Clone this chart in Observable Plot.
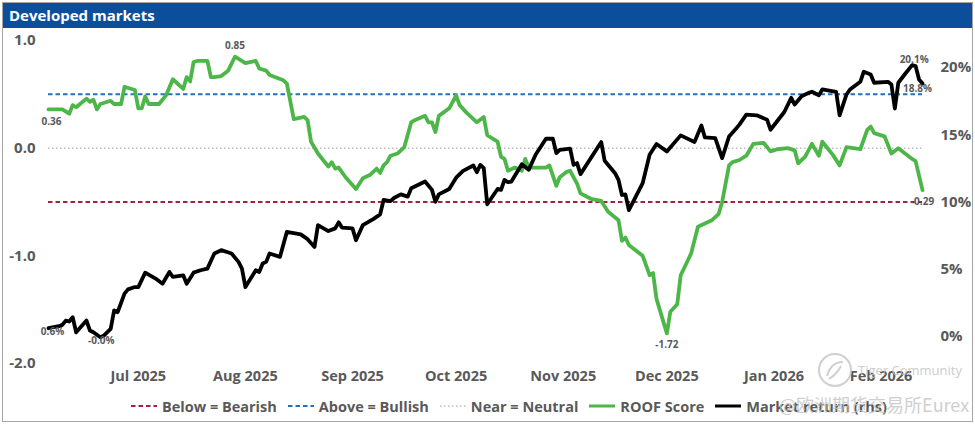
<!DOCTYPE html>
<html>
<head>
<meta charset="utf-8">
<script src="https://cdn.jsdelivr.net/npm/d3@7"></script>
<script src="https://cdn.jsdelivr.net/npm/@observablehq/plot@0.6"></script>
<style>
  html, body { margin: 0; padding: 0; background: #fff; }
  body { width: 975px; height: 424px; position: relative; overflow: hidden; font-family: "Open Sans", sans-serif; }
  #frame { position: absolute; left: 2px; top: 2px; width: 971px; height: 420px; box-sizing: border-box; border: 1px solid #a6a6a6; z-index: 5; pointer-events: none; }
  #title { position: absolute; left: 3px; top: 3px; width: 969px; height: 25px; background: #0b4f9c; color: #fff; font-weight: 700; font-size: 15px; line-height: 25px; padding-left: 6px; box-sizing: border-box; }
  #chart { position: absolute; left: 0; top: 28px; }
  #legend { position: absolute; left: 130px; top: 395px; height: 22px; display: flex; align-items: center; font-size: 14.5px; font-weight: 700; color: #595959; white-space: nowrap; }
  #legend .item { display: flex; align-items: center; margin-right: 10px; }
  #legend svg { margin-right: 4px; }
  #wm1 { position: absolute; left: 858px; top: 361px; font-size: 13px; color: #c4c4c4; opacity: 0.85; z-index: 6; }
  #wm2 { position: absolute; left: 779px; top: 391px; font-size: 18px; color: #c4c4c4; opacity: 0.8; z-index: 6; font-family: "Noto Sans CJK SC", "Noto Sans", sans-serif; }
  #wmlogo { position: absolute; left: 817px; top: 352px; z-index: 6; opacity: 0.8; }
</style>
</head>
<body>
<div id="frame"></div>
<div id="title">Developed markets</div>
<div id="chart"></div>
<div id="legend"></div>
<svg id="wmlogo" width="36" height="36"><circle cx="18" cy="18" r="16" fill="none" stroke="#c4c4c4" stroke-width="2"/><path d="M10 24 Q14 10 26 10 M12 27 Q20 22 24 14" fill="none" stroke="#c4c4c4" stroke-width="2"/></svg>
<div id="wm1">Tiger Community</div>
<div id="wm2">@欧洲期货交易所Eurex</div>
<script>
// ---- data ----
const roofDates = [
  "2025-06-05","2025-06-09","2025-06-11","2025-06-12","2025-06-13","2025-06-16","2025-06-17","2025-06-18","2025-06-19","2025-06-20","2025-06-23","2025-06-24","2025-06-26","2025-06-27","2025-06-30",
  "2025-07-01","2025-07-02","2025-07-03","2025-07-04","2025-07-07","2025-07-09","2025-07-11","2025-07-14","2025-07-15","2025-07-16","2025-07-17","2025-07-18","2025-07-21","2025-07-22","2025-07-23","2025-07-25","2025-07-27","2025-07-29",
  "2025-08-01","2025-08-04","2025-08-05","2025-08-07","2025-08-08","2025-08-12","2025-08-13","2025-08-15","2025-08-18","2025-08-19","2025-08-20","2025-08-22","2025-08-25","2025-08-26","2025-08-27","2025-08-28","2025-08-30",
  "2025-09-02","2025-09-04","2025-09-06","2025-09-08","2025-09-09","2025-09-10","2025-09-11","2025-09-12","2025-09-14","2025-09-16","2025-09-18","2025-09-19","2025-09-22","2025-09-23","2025-09-24","2025-09-25","2025-09-26","2025-09-29",
  "2025-10-01","2025-10-02","2025-10-04","2025-10-07","2025-10-09","2025-10-10","2025-10-13","2025-10-14","2025-10-15","2025-10-16","2025-10-18","2025-10-20","2025-10-21","2025-10-22","2025-10-27","2025-10-28","2025-10-30","2025-10-31",
  "2025-11-02","2025-11-03","2025-11-05","2025-11-06","2025-11-09","2025-11-12","2025-11-14","2025-11-17","2025-11-18","2025-11-19","2025-11-20","2025-11-24","2025-11-26","2025-11-27","2025-11-28",
  "2025-12-01","2025-12-02","2025-12-04","2025-12-05","2025-12-08","2025-12-10","2025-12-14","2025-12-16","2025-12-17","2025-12-19","2025-12-20","2025-12-22","2025-12-24","2025-12-26","2025-12-29","2025-12-31",
  "2026-01-02","2026-01-05","2026-01-07","2026-01-08","2026-01-10","2026-01-12","2026-01-14","2026-01-15","2026-01-18","2026-01-20","2026-01-22","2026-01-26","2026-01-28","2026-01-29","2026-01-30",
  "2026-02-02","2026-02-04","2026-02-06","2026-02-10","2026-02-11","2026-02-13"
];
const roofValues = [
  0.36,0.36,0.32,0.40,0.38,0.46,0.43,0.45,0.36,0.41,0.44,0.41,0.41,0.57,0.54,
  0.37,0.37,0.48,0.41,0.41,0.49,0.64,0.55,0.66,0.62,0.80,0.81,0.81,0.66,0.66,0.67,0.72,0.85,
  0.79,0.81,0.74,0.72,0.68,0.63,0.60,0.27,0.29,0.26,0.06,-0.05,-0.17,-0.13,-0.19,-0.18,-0.27,
  -0.38,-0.28,-0.25,-0.19,-0.23,-0.16,-0.13,-0.07,-0.05,0.01,0.24,0.26,0.30,0.24,0.24,0.15,0.30,0.37,
  0.49,0.40,0.33,0.24,0.29,0.12,0.06,-0.08,-0.10,-0.21,-0.18,-0.21,-0.10,-0.18,-0.18,-0.16,-0.35,-0.27,
  -0.22,-0.21,-0.33,-0.42,-0.47,-0.49,-0.59,-0.67,-0.86,-0.83,-0.90,-1.00,-1.18,-1.16,-1.40,
  -1.72,-1.52,-1.45,-1.18,-0.98,-0.73,-0.67,-0.61,-0.50,-0.16,-0.13,-0.11,-0.07,0.04,0.05,-0.03,
  -0.01,0.00,-0.02,-0.14,-0.08,0.04,-0.07,0.06,-0.06,-0.16,0.01,-0.01,0.17,0.20,0.14,
  0.11,-0.05,0.00,-0.10,-0.12,-0.39
];
const retDates = [
  "2025-06-05","2025-06-08","2025-06-09","2025-06-10","2025-06-11","2025-06-12","2025-06-13","2025-06-16","2025-06-17","2025-06-18","2025-06-20","2025-06-21","2025-06-23","2025-06-24","2025-06-25","2025-06-27","2025-06-28","2025-06-30",
  "2025-07-01","2025-07-03","2025-07-06","2025-07-08","2025-07-10","2025-07-11","2025-07-14","2025-07-15","2025-07-17","2025-07-19","2025-07-21","2025-07-23","2025-07-25","2025-07-28","2025-07-30","2025-07-31",
  "2025-08-01","2025-08-04","2025-08-05","2025-08-06","2025-08-07","2025-08-08","2025-08-11","2025-08-13","2025-08-17","2025-08-19","2025-08-21","2025-08-22","2025-08-25","2025-08-27","2025-08-28","2025-08-29",
  "2025-09-01","2025-09-02","2025-09-04","2025-09-07","2025-09-09","2025-09-10","2025-09-12","2025-09-13","2025-09-15","2025-09-17","2025-09-18","2025-09-22","2025-09-24","2025-09-25","2025-09-26","2025-09-29",
  "2025-10-01","2025-10-03","2025-10-06","2025-10-07","2025-10-08","2025-10-09","2025-10-10","2025-10-13","2025-10-14","2025-10-15","2025-10-16","2025-10-17","2025-10-20","2025-10-22","2025-10-24","2025-10-27","2025-10-29","2025-10-30","2025-10-31",
  "2025-11-03","2025-11-04","2025-11-05","2025-11-06","2025-11-12","2025-11-13","2025-11-16","2025-11-17","2025-11-18","2025-11-19","2025-11-20","2025-11-24","2025-11-26","2025-11-28",
  "2025-12-01","2025-12-05","2025-12-09","2025-12-11","2025-12-12","2025-12-15","2025-12-17","2025-12-19","2025-12-21","2025-12-22","2025-12-24","2025-12-27","2025-12-30","2025-12-31",
  "2026-01-04","2026-01-06","2026-01-07","2026-01-09","2026-01-11","2026-01-12","2026-01-14","2026-01-15","2026-01-19","2026-01-20","2026-01-22","2026-01-23","2026-01-26","2026-01-27","2026-01-29","2026-01-30",
  "2026-02-03","2026-02-04","2026-02-05","2026-02-06","2026-02-08","2026-02-10","2026-02-11","2026-02-12","2026-02-13"
];
const retValues = [
  0.62,0.77,0.87,1.19,1.12,1.44,0.32,1.19,0.45,0.32,-0.05,0.07,0.57,1.94,1.81,3.19,3.51,3.68,
  3.68,4.75,4.31,3.93,4.80,4.43,4.55,3.93,4.75,4.93,5.05,6.17,6.42,6.17,5.55,5.05,
  3.68,4.93,4.80,5.43,5.55,6.17,5.92,7.78,7.59,7.24,6.66,8.28,7.84,8.04,8.49,8.09,
  8.04,7.16,8.28,8.73,9.08,10.15,10.07,10.30,10.57,10.40,11.02,11.52,10.90,10.02,10.57,10.97,
  11.81,12.31,12.71,12.21,12.76,12.51,9.83,10.97,10.90,11.64,11.47,11.52,12.81,12.39,13.51,14.70,14.70,13.63,13.88,
  13.96,12.76,12.89,12.07,14.46,13.06,12.14,11.64,10.52,10.57,9.40,11.40,13.51,14.31,
  13.76,14.95,14.46,15.69,14.80,14.75,13.26,14.87,15.45,15.75,16.49,16.44,16.12,15.37,
  16.69,17.74,17.24,17.86,18.11,18.19,17.93,18.36,18.19,16.44,17.99,18.36,18.93,19.68,19.48,18.86,
  18.93,18.73,16.94,18.86,19.53,20.17,20.10,19.10,18.80
];
const thresholds = [
  {name: "Below = Bearish", value: -0.5},
  {name: "Above = Bullish", value: 0.5},
  {name: "Near = Neutral", value: 0}
];
const leftTicks = [1, 0, -1, -2];
const rightTicks = [0, 5, 10, 15, 20];
const monthTicks = ["2025-07-01","2025-08-01","2025-09-01","2025-10-01","2025-11-01","2025-12-01","2026-01-01","2026-02-01"];
const roofLabels = ["0.36", "0.85", "-1.72", "-0.29"];   // first, max, min, last
const retLabels = ["0.6%", "-0.0%", "20.1%", "18.8%"];    // first, min, max, last
const leftDomain = [-2, 1];
const rightDomain = [-2, 22];

// ---- build ----
const parse = s => new Date(s + "T00:00:00Z");
const roof = roofDates.map((d, i) => ({date: parse(d), v: roofValues[i]}));
const ret = retDates.map((d, i) => ({date: parse(d), r: retValues[i]}));
const toLeft = r => leftDomain[0] + (r - rightDomain[0]) * (leftDomain[1] - leftDomain[0]) / (rightDomain[1] - rightDomain[0]);
const fromLeft = v => rightDomain[0] + (v - leftDomain[0]) * (rightDomain[1] - rightDomain[0]) / (leftDomain[1] - leftDomain[0]);
const x0 = roof[0].date, x1 = roof[roof.length - 1].date;

const styles = {
  "Below = Bearish": {stroke: "#a8203c", dash: "4.5,3", width: 2},
  "Above = Bullish": {stroke: "#2470c0", dash: "4.5,3", width: 2},
  "Near = Neutral": {stroke: "#bdbdbd", dash: "1.5,2.5", width: 1.5}
};
const green = "#4db648";

const iMaxRoof = d3.maxIndex(roofValues), iMinRoof = d3.minIndex(roofValues);
const iMaxRet = d3.maxIndex(retValues), iMinRet = d3.minIndex(retValues);
const roofAnn = [
  {...roof[0], label: roofLabels[0], dx: 3, dy: 12},
  {...roof[iMaxRoof], label: roofLabels[1], dx: 0, dy: -11},
  {...roof[iMinRoof], label: roofLabels[2], dx: 0, dy: 11},
  {...roof[roof.length - 1], label: roofLabels[3], dx: 0, dy: 12}
];
const retAnn = [
  {...ret[0], label: retLabels[0], dx: 4, dy: 4},
  {...ret[iMinRet], label: retLabels[1], dx: 1, dy: 4},
  {...ret[iMaxRet], label: retLabels[2], dx: 2, dy: -5},
  {...ret[ret.length - 1], label: retLabels[3], dx: -5, dy: 5}
];

const annMarks = [...roofAnn, ...retAnn].map(a => Plot.text([a], {
  x: "date", y: d => ("v" in d ? d.v : toLeft(d.r)), text: "label",
  dx: a.dx, dy: a.dy, fontSize: 10, fontWeight: "bold", fill: "#595959"
}));

const plot = Plot.plot({
  width: 975, height: 362,
  marginLeft: 48, marginRight: 53, marginTop: 12, marginBottom: 27,
  style: {fontFamily: "Open Sans, sans-serif", fontSize: "14px", fontWeight: "bold", color: "#595959", background: "transparent", overflow: "visible"},
  x: {type: "utc", domain: [x0, x1]},
  y: {domain: leftDomain},
  marks: [
    ...thresholds.map(t => Plot.ruleY([t.value], {x1: x0, x2: x1, stroke: styles[t.name].stroke, strokeWidth: styles[t.name].width, strokeDasharray: styles[t.name].dash})),
    Plot.line(roof, {x: "date", y: "v", stroke: green, strokeWidth: 3.8}),
    Plot.line(ret, {x: "date", y: d => toLeft(d.r), stroke: "#000", strokeWidth: 3.8}),
    ...annMarks,
    Plot.axisX(monthTicks.map(parse), {tickSize: 0, tickPadding: 7, tickFormat: d3.utcFormat("%b %Y"), fontSize: 14.5, label: null}),
    Plot.axisY(leftTicks, {anchor: "left", tickSize: 0, tickPadding: 13, tickFormat: v => v.toFixed(1), fontSize: 15, label: null}),
    Plot.axisY(rightTicks.map(toLeft), {anchor: "right", tickSize: 0, tickPadding: 18, tickFormat: v => Math.round(fromLeft(v)) + "%", fontSize: 15, textAnchor: "start", label: null})
  ]
});
document.getElementById("chart").appendChild(plot);

// ---- legend ----
const legend = document.getElementById("legend");
const items = [
  ...thresholds.map(t => ({name: t.name, ...styles[t.name]})),
  {name: "ROOF Score", stroke: green, dash: null, width: 3},
  {name: "Market return (rhs)", stroke: "#000", dash: null, width: 3}
];
for (const it of items) {
  const div = document.createElement("div");
  div.className = "item";
  div.innerHTML = `<svg width="28" height="10"><line x1="1" x2="27" y1="5" y2="5" stroke="${it.stroke}" stroke-width="${it.width}" ${it.dash ? `stroke-dasharray="${it.dash}"` : ""}/></svg><span>${it.name}</span>`;
  legend.appendChild(div);
}
</script>
</body>
</html>
